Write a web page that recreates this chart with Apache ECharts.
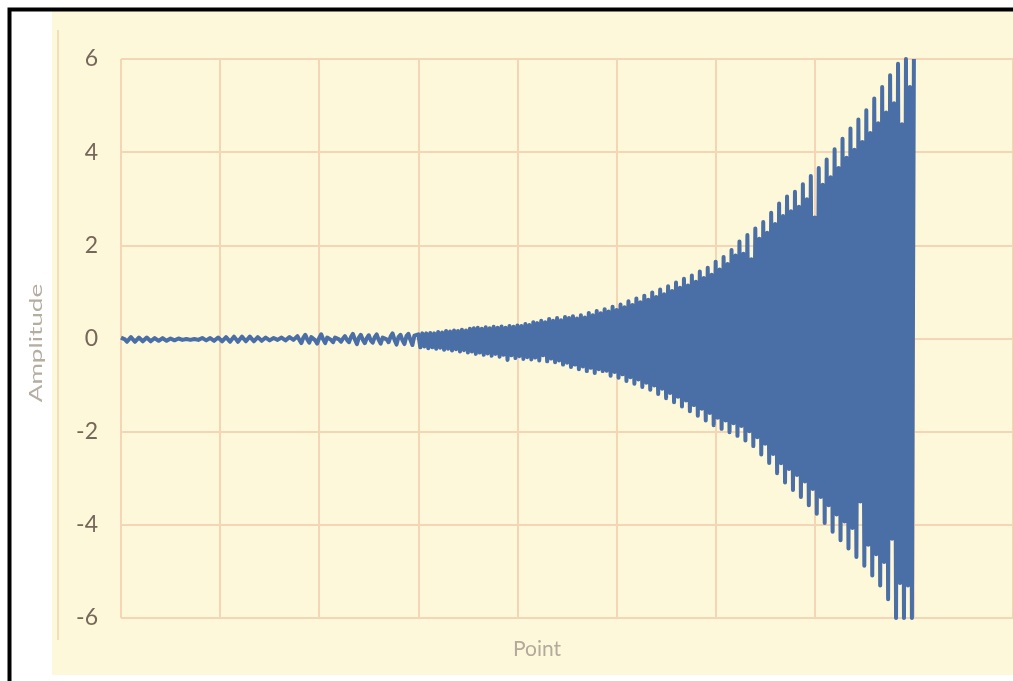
<!DOCTYPE html>
<html>
<head>
<meta charset="utf-8">
<script src="https://cdn.jsdelivr.net/npm/echarts@6/dist/echarts.min.js"></script>
<style>
html,body{margin:0;padding:0;background:#ffffff;}
#c{width:1013px;height:681px;}
</style>
</head>
<body>
<div id="c"></div>
<script>
// ---- data ----
const yTickValues = [-6, -4, -2, 0, 2, 4, 6];
const axisTitleX = 'Point';
const axisTitleY = 'Amplitude';

// quiet start (points 0-149)
const quietPart = [
  0.02,0.05,-0.02,-0.07,-0.03,0.03,-0.01,-0.07,-0.03,0.02,-0.01,-0.06,-0.03,0.02,-0.01,-0.06,-0.03,0.01,-0.01,-0.05,-0.03,0.01,-0.01,-0.05,
  -0.02,0.00,-0.02,-0.04,-0.02,0.00,-0.02,-0.03,-0.02,-0.01,-0.02,-0.03,-0.02,-0.01,-0.02,-0.03,-0.01,0.01,-0.02,-0.04,-0.02,0.01,-0.02,-0.05,-0.02,0.02,
  -0.01,-0.06,-0.03,0.03,-0.01,-0.07,-0.03,0.04,0.00,-0.07,-0.03,0.04,0.00,-0.06,-0.02,0.04,0.00,-0.06,-0.02,0.03,
  -0.01,-0.05,-0.02,0.02,-0.01,-0.04,-0.01,0.01,-0.02,-0.03,-0.01,0.02,-0.01,-0.04,-0.02,0.03,0.00,-0.03,-0.01,0.05,
  -0.03,-0.10,0.02,0.08,-0.02,-0.09,0.03,0.07,-0.04,-0.11,
  0.01,0.09,-0.02,-0.10,0.02,0.06,-0.03,-0.08,0.02,0.05,
  -0.02,-0.07,0.00,0.05,-0.03,-0.08,0.03,0.10,-0.02,-0.12,
  0.02,0.08,-0.03,-0.10,0.01,0.07,-0.04,-0.09,0.03,0.09,
  -0.03,-0.11,0.02,0.06,-0.02,-0.08,0.04,0.11,-0.03,-0.13,
  0.03,0.08,-0.04,-0.12,0.05,0.10,-0.03,-0.14,0.06,0.09
];

// growing part (points 150-299)
const growthPart = [
  0.09,-0.19,0.11,-0.17,0.11,-0.21,0.12,-0.19,0.11,-0.22,
  0.14,-0.20,0.13,-0.24,0.16,-0.22,0.15,-0.26,0.17,-0.23,
  0.16,-0.28,0.19,-0.25,0.17,-0.30,0.21,-0.28,0.22,-0.33,
  0.23,-0.30,0.21,-0.35,0.24,-0.32,0.22,-0.37,0.25,-0.33,
  0.23,-0.39,0.26,-0.35,0.23,-0.46,0.27,-0.36,0.25,-0.42,
  0.28,-0.38,0.27,-0.44,0.31,-0.40,0.29,-0.45,0.35,-0.41,
  0.33,-0.47,0.38,-0.36,0.35,-0.49,0.42,-0.43,0.38,-0.51,
  0.44,-0.47,0.39,-0.56,0.46,-0.52,0.44,-0.61,0.48,-0.56,
  0.43,-0.66,0.50,-0.60,0.45,-0.70,0.55,-0.63,0.50,-0.74,
  0.59,-0.66,0.54,-0.70,0.63,-0.69,0.58,-0.80,0.68,-0.72,
  0.61,-0.84,0.73,-0.77,0.67,-0.91,0.80,-0.83,0.72,-0.97,
  0.86,-0.88,0.78,-1.04,0.92,-0.95,0.83,-1.10,0.99,-1.01,
  0.89,-1.19,1.05,-1.08,0.95,-1.28,1.12,-1.17,1.02,-1.37,
  1.20,-1.25,1.09,-1.46,1.28,-1.33,1.14,-1.56,1.35,-1.43,
  1.22,-1.66,1.44,-1.51,1.30,-1.76,1.52,-1.60,1.37,-1.86
];

// final large-amplitude part (points 300-400)
const finalPart = [
  1.65,-1.70,1.48,-1.94,1.75,-1.76,1.60,-2.01,1.90,-1.82,
  1.78,-2.09,2.08,-1.88,1.82,-2.19,2.22,-1.99,1.70,-2.31,
  2.36,-2.12,2.14,-2.49,2.50,-2.26,2.27,-2.67,2.70,-2.48,
  2.46,-2.89,2.90,-2.68,2.63,-3.09,3.05,-2.80,2.73,-3.25,
  3.15,-2.93,2.83,-3.40,3.31,-3.07,2.99,-3.58,3.49,-3.23,
  2.60,-3.76,3.66,-3.40,3.30,-3.96,3.84,-3.58,3.46,-4.15,
  4.06,-3.78,3.66,-4.33,4.29,-3.93,3.88,-4.51,4.51,-4.07,
  4.05,-4.69,4.70,-3.50,4.22,-4.88,4.90,-4.43,4.41,-5.09,
  5.15,-4.63,4.62,-5.30,5.40,-4.80,4.85,-5.60,5.65,-4.30,
  5.05,-6.00,5.90,-5.25,4.60,-6.00,6.00,-5.30,5.40,-6.00,
  6.00
];

const amplitude = quietPart.concat(growthPart, finalPart);
const seriesData = amplitude.map((v, i) => [i, v]);

const chart = echarts.init(document.getElementById('c'), null, {renderer: 'canvas'});

const gridColor = '#f4d5b5';

chart.setOption({
  animation: false,
  backgroundColor: '#ffffff',
  graphic: [
    { type: 'rect', z: -10, silent: true,
      shape: { x: 52, y: 10, width: 970, height: 665 },
      style: { fill: '#fef8da' } },
    { type: 'line', z: -9, silent: true,
      shape: { x1: 58, y1: 30, x2: 58, y2: 640 },
      style: { stroke: '#f1dfbc', lineWidth: 2 } },
    { type: 'rect', z: 50, silent: true,
      shape: { x: 9.5, y: 9.5, width: 1100, height: 1100 },
      style: { fill: 'none', stroke: '#000000', lineWidth: 4 } },
    { type: 'text', z: 50, silent: true, x: 537, y: 649,
      style: { text: axisTitleX, font: '21px Lato', fill: '#b3a99c',
               textAlign: 'center', textVerticalAlign: 'middle', align: 'center', verticalAlign: 'middle' } },
    { type: 'text', z: 50, silent: true, x: 36, y: 343, rotation: Math.PI / 2, scaleX: 1.45, scaleY: 1,
      style: { text: axisTitleY, font: '18px Lato', fill: '#b5aca2',
               textAlign: 'center', textVerticalAlign: 'middle', align: 'center', verticalAlign: 'middle' } }
  ],
  grid: { left: 121, top: 59, right: 0, bottom: 63, containLabel: false },
  xAxis: {
    type: 'value', min: 0, max: 450, interval: 50,
    axisLine: { show: false }, axisTick: { show: false }, axisLabel: { show: false },
    splitLine: { show: true, showMinLine: true, showMaxLine: true, lineStyle: { color: gridColor, width: 2 } }
  },
  yAxis: {
    type: 'value', min: yTickValues[0], max: yTickValues[yTickValues.length - 1], interval: 2,
    axisLine: { show: false }, axisTick: { show: false },
    axisLabel: { show: true, margin: 23, color: '#76675a', fontFamily: 'Lato', fontSize: 23 },
    splitLine: { show: true, showMinLine: true, showMaxLine: true, lineStyle: { color: gridColor, width: 2 } }
  },
  series: [{
    type: 'line',
    data: seriesData,
    showSymbol: false,
    symbol: 'none',
    sampling: null,
    clip: true,
    lineStyle: { color: '#4a6ea6', width: 4, join: 'round' },
    itemStyle: { color: '#4a6ea6' }
  }]
});
</script>
</body>
</html>
